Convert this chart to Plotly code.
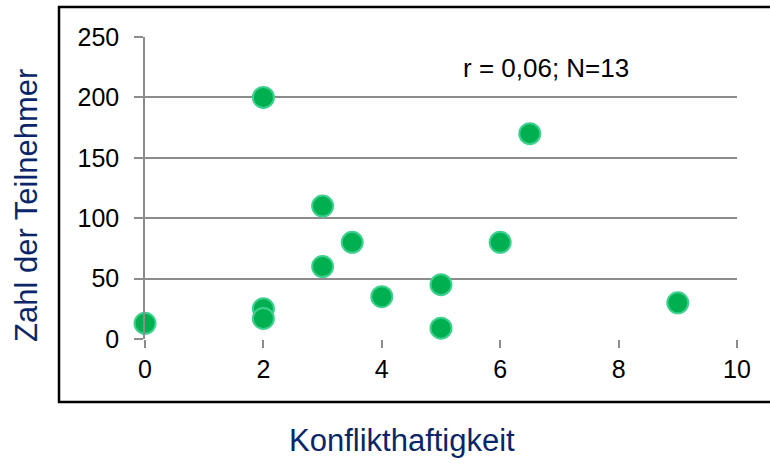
import plotly.graph_objects as go

konflikt = [0, 2, 2, 2, 3, 3, 3.5, 4, 5, 5, 6, 6.5, 9]
teilnehmer = [13, 200, 25, 17, 110, 60, 80, 35, 45, 9, 80, 170, 30]
x_ticks = [0, 2, 4, 6, 8, 10]
y_ticks = [0, 50, 100, 150, 200, 250]

W, H = 770, 463
L, R, T, B = 145, 33, 37, 124

fig = go.Figure()
fig.add_trace(go.Scatter(
    x=konflikt, y=teilnehmer, mode="markers",
    marker=dict(size=21, color="#00B050", line=dict(color="#3DD08E", width=2)),
    cliponaxis=False, showlegend=False,
))

tick_font = dict(family="Liberation Sans, Arial, sans-serif", size=25, color="#000000")
fig.update_layout(
    width=W, height=H,
    margin=dict(l=L, r=R, t=T, b=B),
    paper_bgcolor="white", plot_bgcolor="white",
    xaxis=dict(range=[0, 10], tickvals=x_ticks, showgrid=False, zeroline=False,
               showline=False, ticks="outside", ticklen=8, tickcolor="#8C8C8C",
               tickwidth=1.5, tickfont=tick_font, anchor="y"),
    yaxis=dict(range=[0, 250], tickvals=y_ticks, showgrid=True, gridcolor="#8C8C8C",
               gridwidth=1.5, zeroline=False, showline=True, linecolor="#8C8C8C",
               linewidth=1.5, ticks="outside", ticklen=9, tickcolor="#8C8C8C",
               tickwidth=1.5, tickfont=tick_font, ticklabelstandoff=10),
)

# frame
fig.add_shape(type="rect", xref="paper", yref="paper",
              x0=(59 - L) / (W - L - R), x1=(772 - L) / (W - L - R),
              y0=(H - B - 402) / (H - T - B), y1=(H - B - 7) / (H - T - B),
              line=dict(color="#000000", width=2.5), layer="below")

title_font = dict(family="Liberation Sans, Arial, sans-serif", size=31, color="#0A2668")
fig.add_annotation(text="Konflikthaftigkeit", xref="paper", yref="paper",
                   x=(402 - L) / (W - L - R), y=(H - B - 440) / (H - T - B),
                   showarrow=False, font=title_font, xanchor="center", yanchor="middle")
fig.add_annotation(text="Zahl der Teilnehmer", xref="paper", yref="paper",
                   x=(26 - L) / (W - L - R), y=(H - B - 206) / (H - T - B),
                   showarrow=False, font=title_font, textangle=-90,
                   xanchor="center", yanchor="middle")
fig.add_annotation(text="r = 0,06; N=13", x=6.77, y=224, xref="x", yref="y",
                   showarrow=False, font=dict(tick_font, size=26),
                   xanchor="center", yanchor="middle")

fig.write_html("out.html", config={"displayModeBar": False},
               post_script="document.body.style.margin='0px';")
